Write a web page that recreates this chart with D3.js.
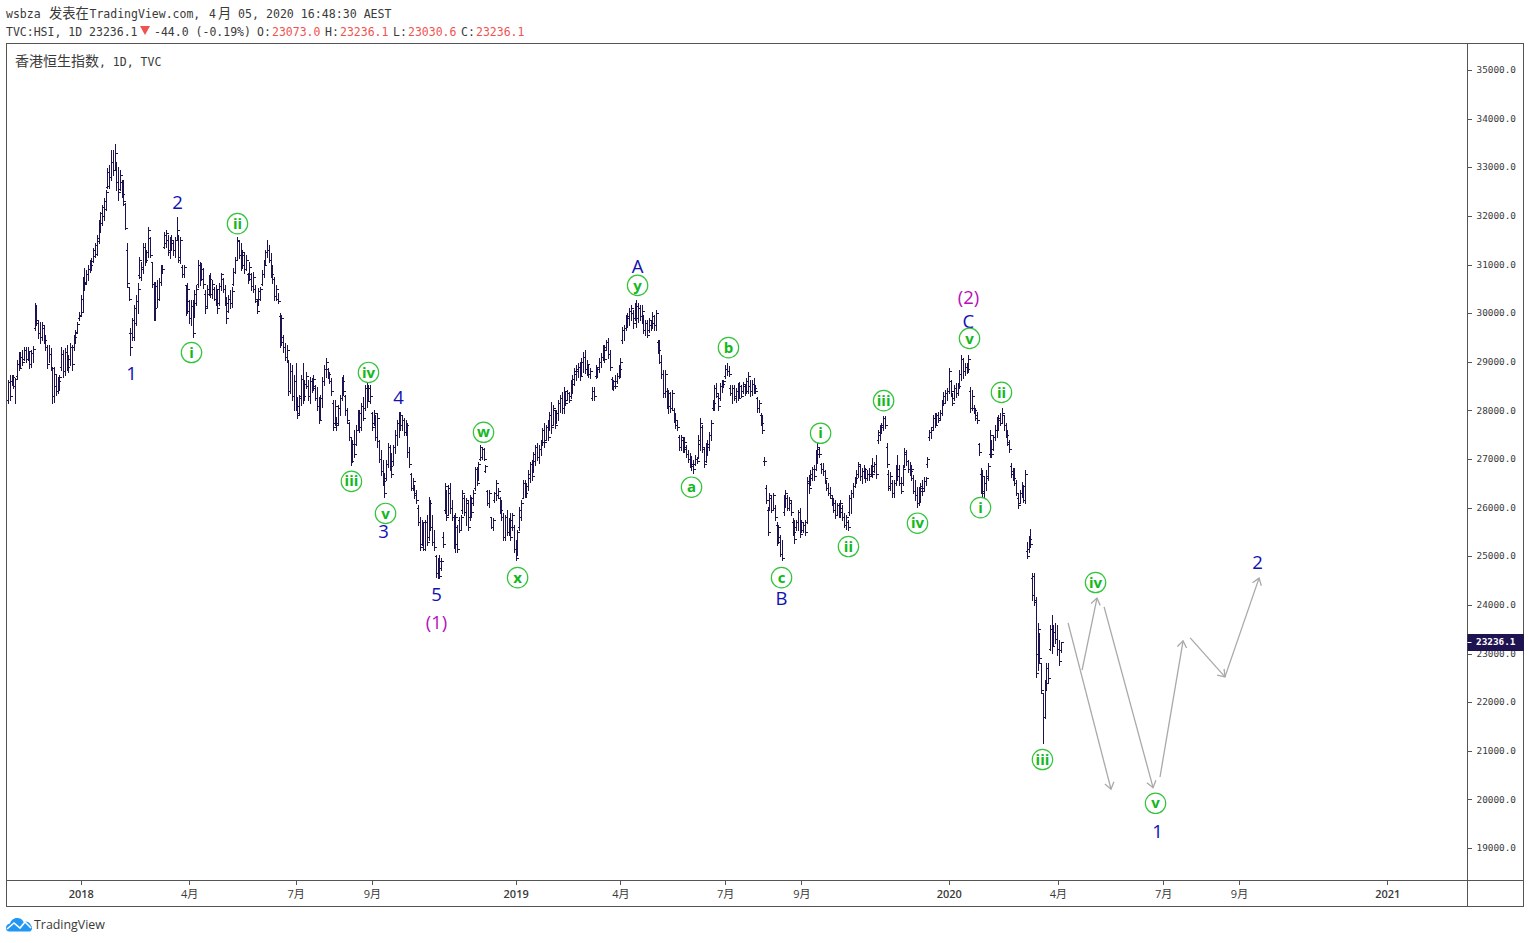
<!DOCTYPE html>
<html>
<head>
<meta charset="utf-8">
<title>香港恒生指数</title>
<script src="https://cdnjs.cloudflare.com/ajax/libs/d3/7.8.5/d3.min.js"></script>
<style>
html,body{margin:0;padding:0;background:#fff;overflow:hidden}
svg{display:block}
.mono{font-family:"DejaVu Sans Mono","Noto Sans CJK SC",monospace}
</style>
</head>
<body>
<svg id="chart" width="1530" height="943"></svg>
<script>
// Daily OHLC bars of the Hang Seng Index, each row [open, high, low, close], split by period.
const late2017 = [
[28210,28630,28150,28590],[28590,28730,28210,28300],[28600,28730,28520,28680],[28680,28730,28460,28510],[28510,28670,28150,28640],[28700,29040,28670,28950],[28950,29200,28830,28880],[28900,29200,28870,29100],[29100,29240,28930,29000],[29060,29300,29040,29250],
[29250,29300,28990,29050],[29050,29300,29040,29220],[29180,29200,28870,28950],[28950,29240,28890,29190],[29190,29320,28990,29260],[29700,30210,29650,29800],[29800,30170,29760,29850],[29850,29860,29490,29600],[29600,29820,29390,29500],[29500,29820,29450,29760],
[29700,29760,29390,29450],[29500,29550,29240,29300],[29300,29340,28870,28950],[28950,29340,28990,29150],[29150,29280,28830,28880],[28880,28890,28150,28300],[28300,28890,28170,28750],[28500,28730,28320,28400],[28400,28690,28360,28600],[28600,28730,28420,28680],
[28900,29300,28830,29150],[29150,29240,28690,28800],[28800,29280,28730,29200],[29200,29340,28830,28900],[28900,29140,28790,29050],[29050,29390,28930,29300],[29300,29340,28830,28950],[29300,29550,29240,29500],[29500,29650,29390,29600],[29620,29820,29610,29780],
[29900,30020,29860,29950]
];
const early2018 = [
[29960,30370,29960,30300],[30020,30740,30020,30650],[30650,30930,30480,30600],[30620,30890,30620,30800],[30800,30990,30680,30900],[30900,31090,30850,31000],[31000,31130,30890,31080],[31080,31340,31050,31300],[31180,31440,31150,31400],
[31220,31610,31200,31550],[31480,31920,31440,31850],[31700,32080,31670,32050],[31850,32220,31810,32180],[32000,32370,31920,32300],[32150,32530,32120,32500],[32600,32990,32570,32900],[32620,33050,32570,32800],[32800,33360,32740,33100],[33100,33360,32840,32950],
[32950,33480,32940,33300],[33050,33110,32530,32700],[32700,33010,32330,32500],[32550,32940,32530,32850],[32700,32740,32390,32450],[32450,32740,32220,32300],[32240,32260,31730,31760],[31300,31440,30540,30620],[30540,30540,30270,30300],[29600,29690,29140,29300],
[29600,29900,29450,29850],[29500,30170,29450,30100],[29800,30370,29760,30250],[30250,30620,30000,30500],[30780,31150,30720,31100],[30750,31050,30680,30950],[30900,31440,30830,31350],[31350,31440,30990,31100],[31100,31300,31050,31250],[31250,31770,31150,31700],
[31550,31560,31150,31200],[31050,31050,30540,30600],[30600,30640,29860,30100],[30100,30640,29860,30550],[30550,30680,30130,30300],[30300,30720,30270,30650],[30650,30990,30580,30900],[30850,30990,30830,30900],[31350,31670,31340,31600],[31450,31710,31360,31650],
[31500,31610,31200,31250],[31300,31570,31130,31450],[31350,31610,31300,31500],[31500,31500,31200,31300],[31300,31570,31150,31500],[31500,31980,31500,31700],[31600,31610,31050,31150],[31100,31570,31030,31500],[30950,30990,30740,30800],[30800,30990,30740,30950]
];
const mid2018 = [
[30580,30580,29960,30050],[30050,30620,30000,30500],[30250,30270,29800,29900],[29900,30270,29760,30150],[30150,30270,29510,29600],[29950,30480,29920,30400],[30200,30580,30170,30500],[30600,31090,30540,31000],[31000,31050,30580,30700],[30700,31030,30680,30900],
[30900,30930,30520,30600],[30400,30480,30000,30100],[30150,30580,30110,30500],[30400,30780,30370,30700],[30700,30830,30330,30400],[30400,30680,30310,30600],[30500,30540,30270,30300],[30300,30580,30170,30500],[30400,30480,30000,30100],[30200,30620,30170,30550],
[30550,30830,30480,30800],[30700,30720,30440,30500],[30500,30580,30170,30200],[30200,30330,29800,29900],[30050,30370,30020,30300],[30300,30480,30110,30200],[30200,30540,30130,30450],[30600,30930,30580,30850],[30850,31150,30830,31100],[31100,31570,31090,31500],
[31480,31500,31130,31200],[31200,31440,30890,31000],[31000,31300,30930,31250],[31200,31240,30830,30900],[30900,31200,30890,31100],[30800,30830,30620,30700],[30700,31050,30680,30950],[30800,30830,30480,30550],[30550,30850,30440,30750],[30500,30580,30230,30300],
[30250,30270,30000,30050],[30200,30520,30170,30450],[30300,30540,30270,30500],[30600,30890,30580,30800],[30800,31090,30740,31000],[31000,31300,30990,31250],[31250,31500,31150,31300],[31300,31400,31050,31100],[31100,31240,30740,30800],[30800,30990,30620,30700],
[30700,30740,30270,30350],[30350,30580,30270,30500],[30300,30410,30210,30250],[29950,30000,29300,29400],[29400,29960,29340,29900],[29500,29550,29200,29300],[29300,29390,29040,29100],[29100,29340,28990,29250],[29000,29040,28320,28400],[28400,28970,28360,28800],
[28800,28930,28210,28300],[28300,28730,28010,28600],[28600,28970,28010,28100],[28250,28280,27840,27900],[27950,28320,27910,28250],[28300,28730,28110,28650],[28650,28970,28150,28300],[28300,28630,28210,28550],[28550,28790,28460,28700],[28500,28630,28210,28300],
[28300,28690,28150,28600],[28600,28670,28380,28450],[28450,28730,28420,28650],[28500,28520,28210,28250],[28250,28480,28010,28100],[28100,28280,27740,27800],[27850,28320,27800,28250],[28250,28690,28070,28600],[28600,28930,28520,28850],[28850,29080,28690,29000],
[28850,28870,28670,28750],[28700,28790,28560,28600],[28600,28670,28320,28400],[28150,28210,27600,27650],[27750,28210,27700,28100],[27850,27860,27600,27700],[27750,28110,27700,28050],[28050,28320,27910,28250],[28250,28690,28210,28600],[28600,28730,28320,28400]
];
const late2018 = [
[28300,28320,27910,28000],[28000,28050,27740,27800],[27750,27760,27390,27450],[27450,27450,26880,26950],[26950,27390,26940,27300],[27300,27600,27040,27100],[27300,27700,27290,27600],[27600,28010,27600,27950],[27950,28010,27560,27650],[27650,28150,27600,28100],
[28100,28280,27800,27850],[28050,28520,28010,28450],[28450,28560,28070,28200],[28250,28520,28210,28450],[28450,28520,28150,28300],[27950,27970,27600,27650],[27750,28010,27700,27950],[27900,27910,27390,27450],[27450,27950,27250,27850],[27380,27390,26940,27000],
[27000,27190,26670,26750],[26750,26980,26470,26550],[26500,26710,26220,26300],[26600,26980,26570,26900],[26900,27330,26840,27250],[27250,27290,26770,26850],[26850,27120,26630,26700],[26950,27290,26880,27250],[27250,27600,27120,27500],[27500,27800,27290,27750],
[27750,27970,27450,27900],[27900,27970,27600,27700],[27700,27910,27600,27800],[27800,27840,27490,27550],[27550,27800,27490,27700],[27700,27740,27040,27150],[27150,27250,26840,26900],[26700,26710,26360,26400],[26400,26610,26360,26550],[26450,26470,26200,26250],
[26300,26360,26100,26150],[26000,26050,25640,25700],[25700,25810,25130,25200],[25250,25750,25230,25700],[25600,25700,25130,25150],[25150,25750,25130,25700],[25700,25850,25230,25300],[25400,26220,25330,26100],[26100,26160,25540,25600],[25600,25850,25230,25300],
[25300,25540,25130,25200],[25000,25030,24570,24650],[24650,24960,24550,24900],[24900,25030,24550,24600],[24750,24960,24720,24900],[25400,25500,25190,25250],[25950,26510,25890,26450],[26300,26360,25750,25800],[25850,26470,25850,26400],[26300,26510,25890,26000],
[26000,26160,25750,25800],[25800,25850,25170,25250],[25250,25890,25090,25800],[25600,25640,25090,25150],[25750,25810,25500,25550],[25550,25850,25540,25800],[25950,26360,25890,26300],[26200,26260,25850,25900],[25900,26200,25640,26150],[26100,26160,25540,25600],
[25800,26260,25750,26200],[26200,26220,25810,25900],[26100,26360,26050,26300],[26400,26840,26360,26800],[26800,26840,26470,26500],[26600,26940,26570,26900],[27000,27290,26980,27250],[27050,27250,27000,27200],[27200,27230,26980,27000],[26750,26880,26730,26850],
[26350,26360,26050,26100],[26100,26360,26010,26300],[25800,25810,25580,25600],[25600,25790,25540,25750],[26150,26320,26120,26300],[26300,26570,26160,26500],[26250,26400,26200,26350],[26200,26220,25890,25950],[25950,26160,25750,25800],[25800,25890,25330,25400]
];
const early2019 = [
[25400,25850,25330,25800],[25800,25950,25440,25500],[25500,25790,25440,25750],[25750,25890,25330,25400],[25600,25890,25540,25850],[25600,25640,25090,25150],[25150,25330,24920,24960],[25050,25540,25030,25500],[25600,26010,25540,25950],[25800,26160,25750,26100],
[26200,26570,26200,26500],[26500,26570,26220,26300],[26300,26510,26220,26450],[26450,26770,26360,26700],[26600,26940,26530,26900],[26900,26980,26570,26650],[26750,27140,26730,27100],[26950,27290,26880,27250],[27250,27330,26980,27050],[27050,27290,26920,27200],
[27200,27390,27080,27350],[27350,27640,27290,27600],[27600,27740,27250,27350],[27400,27700,27390,27650],[27650,27800,27390,27450],[27650,27970,27600,27900],[27900,28170,27540,27650],[27700,28110,27700,28050],[28000,28010,27640,27700],[27750,28010,27740,27950],
[27950,28210,27800,28150],[28150,28320,27970,28250],[28250,28380,27950,28050],[28050,28480,27950,28400],[28350,28380,28110,28150],[28220,28420,28210,28350],[28350,28380,28170,28220],[28300,28630,28250,28550],[28550,28730,28360,28650],[28650,28870,28520,28800],
[28750,28930,28630,28850],[28800,28970,28690,28900],[28900,28990,28630,28700],[28750,29080,28710,29000],[29000,29200,28790,29100],[29100,29240,28770,28850],[28850,29040,28730,28950],[28900,28930,28690,28750],[28750,28870,28670,28800],[28250,28480,28210,28400],
[28400,28480,28210,28300],[28700,28930,28670,28900],[28750,28890,28690,28850],[28850,29080,28790,29000],[29000,29180,28890,29100],[29100,29340,29040,29250],[29250,29340,28990,29050],[29300,29450,29240,29400],[29400,29490,29080,29150],[29150,29240,28830,28900],
[28650,28690,28440,28500],[28500,28630,28420,28600],[28600,28730,28460,28500],[28600,28770,28560,28700],[28700,28930,28670,28850],[28850,29080,28690,29000],[29450,29710,29390,29650],[29650,29760,29450,29700],[29700,29960,29650,29900],[29900,30000,29710,29950],
[29950,30110,29760,30050],[30050,30170,29860,30100],[30000,30060,29690,29800],[29900,30210,29860,30150],[30150,30270,29710,29900],[29900,30210,29820,30100],[30100,30170,29860,29950],[29950,30170,29800,30050],[29800,29960,29590,29650],[29650,29860,29550,29800],
[29800,29860,29510,29550],[29650,29900,29610,29850],[29750,29860,29650,29800],[29800,30020,29690,29950],[29950,29960,29650,29750],[29750,30060,29650,30000],[29400,29450,29180,29250],[29250,29450,28970,29000],[29000,29140,28670,28750],[28750,28830,28280,28350]
];
const mid2019 = [
[28350,28830,28280,28750],[28400,28460,28050,28100],[28100,28420,27950,28350],[28350,28380,27970,28050],[28050,28420,28010,28350],[28000,28050,27760,27800],[27800,27950,27640,27700],[27700,27800,27600,27650],[27450,27490,27190,27250],[27250,27490,27190,27450],
[27400,27450,27140,27200],[27200,27450,27140,27350],[27250,27290,27040,27100],[27100,27190,26940,27000],[27000,27120,26840,26900],[26900,27060,26770,26850],[26850,26980,26710,26800],[26900,27080,26880,27000],[27000,27040,26920,26950],[27050,27490,27020,27400],
[27300,27840,27190,27750],[27650,27700,27140,27250],[27200,27250,26840,26900],[26950,27330,26940,27250],[27200,27390,27080,27300],[27300,27560,27190,27500],[27500,27800,27390,27750],[28050,28210,28010,28150],[28150,28520,28010,28450],[28450,28560,28280,28350],
[28300,28360,28010,28100],[28250,28560,28210,28500],[28500,28630,28380,28550],[28520,28630,28480,28600],[28700,28930,28670,28850],[28850,28970,28730,28800],[28800,28910,28710,28750],[28450,28520,28320,28350],[28350,28520,28150,28450],[28450,28520,28210,28250],
[28300,28460,28170,28400],[28400,28560,28210,28250],[28300,28590,28280,28500],[28500,28520,28280,28300],[28400,28590,28360,28550],[28500,28540,28320,28400],[28400,28670,28360,28600],[28600,28790,28360,28700],[28500,28630,28300,28400],[28400,28630,28320,28550],
[28550,28670,28360,28450],[28450,28520,28360,28400],[28250,28280,27970,28050],[28050,28210,27970,28150],[27900,27950,27700,27750],[27750,27910,27540,27600],[26950,27040,26880,26950],[26400,26470,26100,26150],[25950,26010,25440,25500],[25950,26300,25950,26250],
[26200,26260,25910,25950],[25950,26300,25950,26250],[26000,26050,25750,25800],[25650,25700,25230,25300],[25300,25640,25270,25600],[25400,25440,25010,25050],[25050,25330,24920,24960],[25900,26260,25850,26200],[26200,26360,26010,26300],[26200,26260,25950,26000]
];
const late2019 = [
[26000,26220,25950,26150],[26100,26160,25850,25900],[25700,25790,25440,25500],[25500,25750,25270,25350],[25600,25750,25540,25700],[25700,25950,25540,25900],[25900,25990,25400,25450],[25500,25750,25500,25700],[25550,25690,25500,25650],[25650,25750,25440,25500],
[25700,26630,25690,26550],[26500,26670,26300,26400],[26500,26770,26470,26700],[26600,26840,26570,26800],[26800,26880,26570,26650],[26800,27190,26770,27100],[27100,27330,26920,27250],[27200,27250,27040,27100],[26900,26920,26710,26800],[26800,26920,26670,26750],
[26750,26770,26530,26600],[26500,26570,26360,26400],[26400,26510,26260,26300],[26300,26430,26200,26250],[26200,26260,26050,26100],[26100,26200,25910,25950],[25950,26160,25790,25850],[25850,26100,25850,26050],[26050,26100,25810,25900],[25900,26160,25810,26100],
[26000,26050,25750,25800],[25800,25890,25600,25650],[25650,25850,25560,25800],[25700,25750,25540,25600],[25900,26260,25850,26200],[26200,26360,25890,26300],[26300,26510,26220,26450],[26450,26630,26430,26600],[26600,26770,26510,26700],[26700,26940,26630,26900],
[26850,26880,26570,26650],[26650,26820,26510,26750],[26750,26880,26610,26800],[26800,26820,26530,26600],[26600,26770,26570,26700],[26700,26820,26570,26650],[26700,26880,26650,26850],[26850,27020,26630,26700],[26750,26940,26730,26900],[26900,27080,26610,26700],
[27400,27600,27330,27550],[27500,27700,27390,27650],[27600,27740,27540,27700],[27700,27890,27600,27850],[27850,27890,27640,27700],[27250,27330,26840,26900],[26700,26770,26360,26400],[26450,26730,26360,26650],[26500,26570,26220,26300],[26300,26570,26220,26500],
[26500,26880,26470,26800],[26800,27080,26570,26650],[26650,26880,26470,26500],[26500,26630,26300,26350],[26500,26880,26470,26800],[26850,27230,26840,27150],[27100,27190,26880,26950],[26950,26980,26730,26800],[26800,26940,26670,26750],[26700,26880,26570,26800],
[26600,26670,26300,26350],[26350,26570,26160,26250],[26250,26430,26010,26100],[26100,26430,26050,26350],[26200,26510,26120,26450],[26400,26570,26260,26350],[26400,26630,26360,26550],[26550,26630,26470,26600],[26900,27040,26840,27000],[27450,27600,27390,27550],
[27550,27660,27430,27600],[27650,27910,27600,27850],[27850,27950,27660,27700],[27700,27950,27700,27900],[27900,27970,27760,27800],[27850,28010,27800,27950],[27950,28210,27910,28150],[28150,28380,28110,28300],[28300,28420,28150,28350],[28350,28460,28210,28400]
];
const early2020 = [
[28400,28870,28360,28800],[28600,28630,28320,28400],[28300,28360,28110,28150],[28250,28520,28210,28450],[28450,28560,28280,28350],[28350,28560,28320,28500],[28500,28830,28460,28750],[28750,29140,28630,29050],[29050,29080,28670,28800],[28800,28970,28730,28900],
[28900,28970,28770,28850],[28850,29140,28790,29050],[28400,28480,27970,28050],[28050,28420,28010,28300],[28050,28110,27950,28000],[28000,28050,27800,27850],[27900,27970,27740,27800],[27300,27330,27080,27150],[26700,26820,26300,26350],[26350,26770,26220,26650],
[26300,26630,26160,26500],[26500,26770,26360,26650],[26600,26920,26570,26850],[27100,27600,27040,27500],[27200,27390,27040,27100],[27200,27490,27190,27450],[27450,27700,27390,27600],[27600,27860,27450,27800],[27650,27910,27600,27850],[27850,27950,27700,27750],
[27750,28050,27740,27950],[27900,27910,27600,27700],[27700,27740,27450,27500],[27500,27600,27290,27350],[27300,27390,27140,27200],[26850,26920,26630,26700],[26750,26820,26570,26600],[26600,26820,26470,26500],[26500,26570,26260,26300],[26200,26300,25990,26050],
[26100,26360,26100,26300],[26300,26530,26220,26450],[26400,26470,26120,26150],[26150,26770,26100,26700],[25100,25290,24960,25000],[25150,25420,25090,25350],[25300,25560,25190,25250],[24550,24660,24100,24200],[24600,24660,23990,24050],[24100,24160,22520,22600],
[23000,23630,22660,23500],[23200,23420,22800,22900],[22800,22800,22190,22250],[22180,22190,21160,21700],[21700,22460,21670,22400],[22400,22800,22250,22700],[22700,22800,22390,22500],[23100,23590,23070,23500],[23500,23790,23010,23150],[23200,23590,23180,23450],
[23450,23630,23220,23300],[23300,23590,22970,23100],[23100,23280,22760,22850],[23073,23236.1,23030.6,23236.1]
];
const bars = [].concat(late2017, early2018, mid2018, late2018, early2019, mid2019, late2019, early2020);

// Axis ticks: prices and [bar number, label] pairs for the time scale.
const priceTicks = [19000,20000,21000,22000,23000,24000,25000,26000,27000,28000,29000,30000,31000,32000,33000,34000,35000];
const timeTickBars = [41,102,162,205,286,345,404,447,530,591.5,650.7,693.5,777];
const timeTickLabels = ["2018","4月","7月","9月","2019","4月","7月","9月","2020","4月","7月","9月","2021"];
const yearLabels = ["2018","2019","2020","2021"];

// Elliott wave annotations, placed as [text, bar number, price].
const blueWaves = [["1",69.3,28770],["2",95.2,32290],["3",211.3,25520],["4",219.7,28280],["5",241.1,24220],["A",354.4,30970],["B",435.5,24140],["C",540.8,29840],["1",647.3,19350],["2",703.7,24880]];
const magentaWaves = [["(1)",241.1,23650],["(2)",540.8,30330]];
const greenWaves = [["i",103.1,29200],["ii",129,31850],["iii",193.2,26550],["iv",202.8,28790],["v",212.4,25890],["w",267.6,27560],["x",286.8,24570],["y",354.4,30580],["a",384.8,26430],["b",405.6,29300],["c",435.5,24570],["i",457.5,27540],["ii",473.2,25210],["iii",493,28210],["iv",512.1,25690],["v",541.4,29490],["i",547.6,26010],["ii",559.4,28380],["iii",582.5,20830],["iv",612.4,24470],["v",646.2,19930]];

// Projected path of the count, as [[bar, price], [bar, price]] segments.
const forecastArrows = [
[[597.2,23630],[621.4,20210]],
[[605.1,22660],[613.5,24140]],
[[617.5,23960],[645.1,20240]],
[[649,20460],[662,23260]],
[[666,23320],[685.6,22520]],
[[685.6,22520],[704.8,24550]]
];

const lastBar = bars[bars.length-1];
const C = {bar:"#1e1350", frame:"#555555", text:"#3a3a3a", red:"#ef5350", blue:"#1010b4", magenta:"#b80fb8", green:"#12b81c", ring:"#33c43a", arrow:"#a9a9a9"};

const svg = d3.select("#chart");
const plot = {left:6.5, right:1467.5, top:43.5, bottom:880.5, outerRight:1523.5, outerBottom:906.5};

const x = d3.scaleLinear().domain([0,593]).range([8,1060.6]);
const y = d3.scaleLinear().domain([35000,19000]).range([70,848]);

// Frame
svg.append("rect").attr("x",plot.left).attr("y",plot.top).attr("width",plot.outerRight-plot.left).attr("height",plot.outerBottom-plot.top).attr("fill","#fff").attr("stroke",C.frame);
svg.append("line").attr("x1",plot.right).attr("x2",plot.right).attr("y1",plot.top).attr("y2",plot.outerBottom).attr("stroke",C.frame);
svg.append("line").attr("x1",plot.left).attr("x2",plot.outerRight).attr("y1",plot.bottom).attr("y2",plot.bottom).attr("stroke",C.frame);

// Header lines
const fmt1 = d3.format(".1f");
const head = svg.append("g").attr("class","mono").attr("font-size",11.5).attr("fill",C.text);
const line1 = head.append("text").attr("y",18);
[["wsbza",6,11.5],["发表在",49,13.3],["TradingView.com,",89.5,11.5],["4",209,11.5],["月",218,13.3],["05, 2020 16:48:30 AEST",238,11.6]].forEach(d=>{
  line1.append("tspan").attr("x",d[1]).attr("font-size",d[2]).text(d[0]);
});
const line2 = head.append("text").attr("y",36);
line2.append("tspan").attr("x",6).text("TVC:HSI, 1D "+fmt1(lastBar[3]));
line2.append("tspan").attr("x",154).text("-44.0 (-0.19%)");
[["O:",lastBar[0],257],["H:",lastBar[1],325],["L:",lastBar[2],393],["C:",lastBar[3],461]].forEach(d=>{
  line2.append("tspan").attr("x",d[2]).text(d[0]);
  line2.append("tspan").attr("x",d[2]+15).attr("fill",C.red).text(fmt1(d[1]));
});
svg.append("path").attr("d","M140,26H150L145,35Z").attr("fill",C.red);
const title = svg.append("text").attr("class","mono").attr("x",15).attr("y",66).attr("fill",C.text).attr("font-size",11.5);
title.append("tspan").attr("font-size",14).text("香港恒生指数");
title.append("tspan").text(", 1D, TVC");

// Price and time axes
const yAxis = d3.axisRight(y).tickValues(priceTicks).tickFormat(fmt1).tickSize(4).tickPadding(5);
const gy = svg.append("g").attr("transform",`translate(${plot.right},0)`).call(yAxis);
gy.select(".domain").remove();
gy.selectAll("line").attr("stroke",C.frame).attr("shape-rendering","crispEdges");
gy.selectAll("text").attr("font-family","DejaVu Sans Mono").attr("font-size",9.4).attr("fill",C.text).attr("dy","0.28em");

const xAxis = d3.axisBottom(x).tickValues(timeTickBars).tickFormat((d,i)=>timeTickLabels[i]).tickSize(4).tickPadding(5.5);
const gx = svg.append("g").attr("transform",`translate(0,${plot.bottom})`).call(xAxis);
gx.select(".domain").remove();
gx.selectAll("line").attr("stroke",C.frame).attr("shape-rendering","crispEdges");
gx.selectAll("text").attr("font-family","'Open Sans','Noto Sans CJK SC'").attr("font-size",11).attr("fill",C.text)
  .attr("font-weight",(d,i)=>yearLabels.includes(timeTickLabels[i])?600:400);

// OHLC bars
const barG = svg.append("g").attr("stroke",C.bar).attr("shape-rendering","crispEdges").attr("fill","none");
barG.selectAll("path").data(bars).join("path").attr("d",(d,i)=>{
  const px = Math.round(x(i))+.5;
  const o = Math.round(y(d[0]))+.5, c = Math.round(y(d[3]))+.5;
  const [hi,lo] = [Math.round(y(d[1])),Math.round(y(d[2]))+1];
  return `M${px},${hi}V${lo}M${px-2},${o}H${px}M${px},${c}H${px+2}`;
});

// Forecast arrows
const arrows = svg.append("g").attr("stroke",C.arrow).attr("stroke-width",1.3).attr("fill","none");
forecastArrows.forEach(seg=>{
  const [a,b] = seg.map(p=>[x(p[0]),y(p[1])]);
  const ang = Math.atan2(b[1]-a[1],b[0]-a[0]);
  const wing = t=>[b[0]-8*Math.cos(ang+t),b[1]-8*Math.sin(ang+t)];
  arrows.append("path").attr("d",d3.line()([a,b]));
  arrows.append("path").attr("d",d3.line()([wing(.62),b,wing(-.62)]));
});

// Wave labels
const waveFont = "'Open Sans','Noto Sans',sans-serif";
function plainLabels(list,color){
  svg.append("g").attr("fill",color).attr("font-family",waveFont).attr("font-size",18.5).attr("text-anchor","middle")
    .selectAll("text").data(list).join("text")
    .attr("x",d=>x(d[1])+.5).attr("y",d=>y(d[2])).attr("dy","0.38em").text(d=>d[0]);
}
plainLabels(blueWaves,C.blue);
plainLabels(magentaWaves,C.magenta);
const ringG = svg.append("g").selectAll("g").data(greenWaves).join("g").attr("transform",d=>`translate(${x(d[1])+.5},${y(d[2])+.5})`);
ringG.append("circle").attr("r",10.2).attr("fill","#fff").attr("stroke",C.ring).attr("stroke-width",1.2);
ringG.append("text").attr("text-anchor","middle").attr("dy","0.34em").attr("font-family",waveFont).attr("font-weight",700).attr("font-size",15).attr("fill",C.green).text(d=>d[0]);

// Last-price tag
const tagY = y(lastBar[3]);
svg.append("rect").attr("x",plot.right).attr("y",Math.round(tagY)-8).attr("width",plot.outerRight-plot.right+.5).attr("height",17).attr("fill",C.bar);
svg.append("text").attr("x",1476).attr("y",tagY).attr("dy","0.36em").attr("font-family","DejaVu Sans Mono").attr("font-weight",700).attr("font-size",9.4).attr("fill","#fff").text(fmt1(lastBar[3]));
svg.append("line").attr("x1",plot.right).attr("x2",plot.right+4).attr("y1",Math.round(tagY)+.5).attr("y2",Math.round(tagY)+.5).attr("stroke","#fff");

// Brand mark
const brand = svg.append("g").attr("transform","translate(6,917)");
brand.append("path").attr("d","M0,11C0,8 2,7 4,6.5C5,3 8,0.5 12,1C15,1.3 16.5,3 17.5,5C20,3.5 24,5 25,8.5C26.5,9.5 26.5,13.5 24,14.5H3C1,14.5 0,13 0,11Z").attr("fill","#2196f3");
brand.append("path").attr("d","M1,12L8,6L14,11L19,5L25,11").attr("fill","none").attr("stroke","#fff").attr("stroke-width",1.6);
svg.append("text").attr("x",34).attr("y",929).attr("font-family","'Open Sans',sans-serif").attr("font-size",12.4).attr("fill","#3a3a3a").text("TradingView");
</script>
</body>
</html>
